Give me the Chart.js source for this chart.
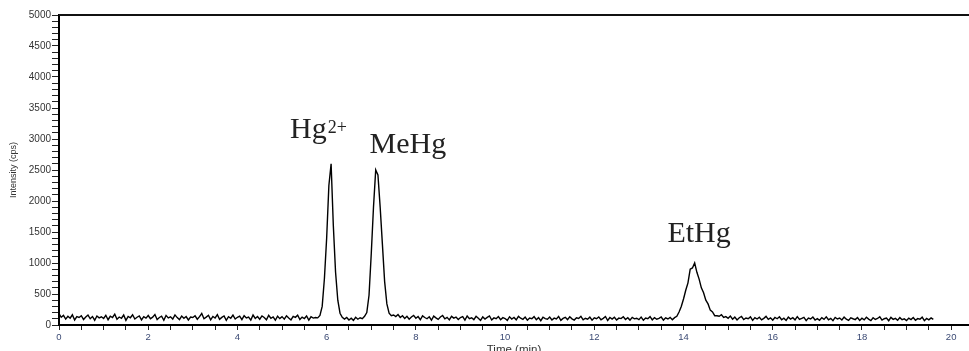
<!DOCTYPE html>
<html>
<head>
<meta charset="utf-8">
<title>Hg species chromatogram</title>
<script src="https://cdn.jsdelivr.net/npm/chart.js@4.4.1/dist/chart.umd.min.js"></script>
<style>
  html, body { margin: 0; padding: 0; background: #fff; }
  canvas { display: block; }
</style>
</head>
<body>
<canvas id="chromChart" width="969" height="351"></canvas>
<script>
// one sample every 0.05 min, from 0 to 19.6 min
const sampleStep = 0.05;

// intensity (cps), one row per minute
const intensity = [
  185, 125, 155, 95, 141, 109, 165, 81, 135, 121, 149, 89, 129, 161, 101, 137, 77, 145, 115, 133,
  105, 157, 85, 141, 121, 175, 93, 129, 109, 161, 75, 139, 117, 165, 97, 125, 147, 83, 135, 111,
  153, 101, 127, 169, 89, 121, 141, 77, 155, 115, 131, 95, 163, 119, 87, 145, 109, 137, 81, 129,
  121, 149, 93, 135, 185, 101, 127, 157, 83, 139, 113, 167, 91, 123, 145, 75, 133, 109, 159, 97,
  125, 143, 87, 151, 115, 129, 79, 161, 105, 137, 93, 147, 121, 85, 155, 109, 131, 77, 141, 103,
  135, 95, 149, 113, 81, 139, 123, 157, 89, 127, 105, 145, 79, 133, 111, 121, 115, 155, 300, 750,
  1400, 2250, 2600, 1600, 850, 400, 190, 125, 95, 121, 81, 109, 75, 125, 93, 117, 101, 141, 200, 480,
  1150, 1900, 2500, 2420, 1900, 1300, 700, 340, 190, 150, 161, 135, 169, 121, 149, 105, 141, 93, 129, 155,
  109, 137, 85, 147, 121, 101, 133, 77, 143, 115, 91, 129, 153, 99, 123, 83, 139, 111, 127, 89,
  121, 135, 79, 145, 103, 117, 87, 141, 109, 73, 131, 97, 123, 147, 81, 115, 101, 137, 85, 119,
  105, 75, 133, 97, 121, 83, 139, 109, 91, 127, 77, 113, 101, 135, 85, 119, 69, 125, 103, 93,
  129, 81, 111, 97, 137, 75, 107, 123, 87, 133, 99, 79, 117, 105, 141, 83, 109, 93, 127, 77,
  115, 101, 131, 85, 107, 137, 73, 121, 95, 125, 81, 111, 103, 133, 89, 117, 79, 123, 99, 109,
  87, 127, 77, 113, 101, 135, 83, 119, 93, 107, 129, 79, 115, 97, 123, 85, 118, 140, 210, 300,
  420, 560, 680, 900, 920, 1000, 850, 740, 600, 520, 400, 340, 240, 210, 150, 150, 141, 165, 121, 135,
  109, 145, 93, 127, 81, 117, 137, 87, 113, 101, 131, 75, 119, 97, 125, 83, 107, 139, 91, 115,
  79, 121, 101, 133, 85, 109, 73, 127, 95, 117, 83, 135, 89, 105, 123, 71, 111, 97, 129, 81,
  103, 77, 119, 91, 131, 85, 107, 69, 123, 97, 113, 81, 127, 93, 75, 117, 101, 87, 121, 73,
  109, 83, 125, 95, 71, 117, 89, 105, 133, 79, 101, 113, 69, 123, 91, 107, 77, 119, 85, 99,
  73, 111, 87, 121, 77, 103, 93, 127, 69, 105, 83, 115, 91
];

const xTickLabels = [0, 2, 4, 6, 8, 10, 12, 14, 16, 18, 20];
const yTickLabels = [0, 500, 1000, 1500, 2000, 2500, 3000, 3500, 4000, 4500, 5000];
const peakNames = ['Hg', 'MeHg', 'EtHg'];
const peakCharges = ['2+', '', ''];

const times = intensity.map((v, i) => Math.round(i * sampleStep * 100) / 100);

const peakLabels = {
    id: 'peakLabels',
    afterDraw(chart, args, opts) {
        const { ctx, chartArea, scales } = chart;
        ctx.save();

        // top frame line
        ctx.strokeStyle = '#111';
        ctx.lineWidth = 2;
        ctx.beginPath();
        ctx.moveTo(chartArea.left, chartArea.top);
        ctx.lineTo(chartArea.right, chartArea.top);
        ctx.stroke();

        ctx.fillStyle = '#222';
        ctx.textBaseline = 'alphabetic';
        ctx.textAlign = 'left';
        peakNames.forEach((name, i) => {
            const x = scales.x.getPixelForValue(opts.anchors[i][0]);
            const y = scales.y.getPixelForValue(opts.anchors[i][1]);
            ctx.font = '30px "Liberation Serif", "Times New Roman", serif';
            ctx.fillText(name, x, y);
            if (peakCharges[i]) {
                const w = ctx.measureText(name).width;
                ctx.font = '18px "Liberation Serif", "Times New Roman", serif';
                ctx.fillText(peakCharges[i], x + w + 1, y - 5);
            }
        });
        ctx.restore();
    }
};

const isLabel = (list, v) => list.some(l => Math.abs(l - v) < 1e-6);

const ctx = document.getElementById('chromChart').getContext('2d');
new Chart(ctx, {
    type: 'line',
    data: {
        datasets: [{
            label: 'Intensity',
            data: times.map((t, i) => ({ x: t, y: intensity[i] })),
            borderColor: '#000',
            borderWidth: 1.4,
            pointRadius: 0,
            tension: 0,
            fill: false
        }]
    },
    options: {
        responsive: false,
        animation: false,
        devicePixelRatio: 1,
        layout: { padding: { top: 15, right: 0, bottom: 0, left: 0 } },
        plugins: {
            legend: { display: false },
            tooltip: { enabled: false },
            peakLabels: {
                anchors: [[5.18, 3016], [6.96, 2774], [13.64, 1339]]
            }
        },
        scales: {
            x: {
                type: 'linear',
                min: 0,
                max: 20.4,
                afterBuildTicks: scale => {
                    // minor tick every 0.5 min up to the last label
                    const ticks = [];
                    for (let k = 0; k <= 40; k++) ticks.push({ value: k / 2 });
                    scale.ticks = ticks;
                },
                afterFit: scale => { scale.height = 26; },
                ticks: {
                    autoSkip: false,
                    maxRotation: 0,
                    padding: 2,
                    color: '#3b4a74',
                    font: { family: '"Liberation Sans", Arial, sans-serif', size: 9.5 },
                    callback: v => isLabel(xTickLabels, v) ? String(Math.round(v)) : ''
                },
                grid: {
                    drawOnChartArea: false,
                    drawTicks: true,
                    tickLength: 5,
                    tickColor: '#222'
                },
                border: { color: '#000', width: 2 },
                title: {
                    display: true,
                    text: 'Time (min)',
                    color: '#333',
                    padding: { top: 0, bottom: -5 },
                    font: { family: '"Liberation Sans", Arial, sans-serif', size: 11.5, lineHeight: 1 }
                }
            },
            y: {
                type: 'linear',
                min: 0,
                max: 5000,
                afterFit: scale => { scale.width = 59; },
                ticks: {
                    stepSize: 100,
                    autoSkip: false,
                    padding: 1,
                    color: '#333',
                    font: { family: '"Liberation Sans", Arial, sans-serif', size: 10 },
                    callback: v => isLabel(yTickLabels, v) ? String(v) : ''
                },
                grid: {
                    drawOnChartArea: false,
                    drawTicks: true,
                    tickLength: 7,
                    tickColor: '#222'
                },
                border: { color: '#000', width: 2 },
                title: {
                    display: true,
                    text: 'Intensity (cps)',
                    color: '#333',
                    padding: { top: 8, bottom: 0 },
                    font: { family: '"Liberation Sans", Arial, sans-serif', size: 9 }
                }
            }
        }
    },
    plugins: [peakLabels]
});
</script>
</body>
</html>
